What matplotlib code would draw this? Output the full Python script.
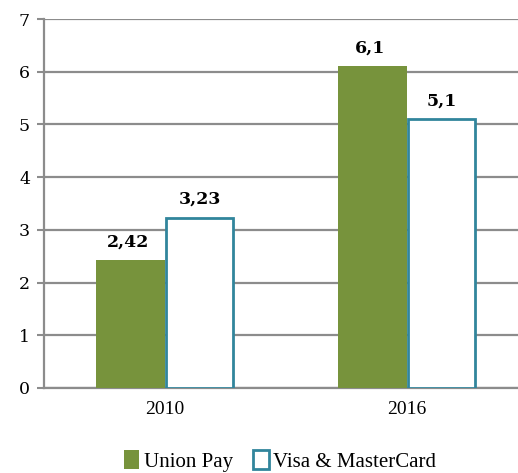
import matplotlib.pyplot as plt
import numpy as np

years = ["2010", "2016"]
union_pay = [2.42, 6.1]
visa_mc = [3.23, 5.1]
union_labels = ["2,42", "6,1"]
visa_labels = ["3,23", "5,1"]
y_ticks = [0, 1, 2, 3, 4, 5, 6, 7]

green = "#77933C"
teal = "#31859C"
grid_gray = "#8C8C8C"

fig = plt.figure(figsize=(5.18, 4.73), dpi=100)
ax = fig.add_axes([44 / 518, 1 - 388 / 473, 484 / 518, 369 / 473])

x = np.arange(len(years))
w = 0.285
b1 = ax.bar(x - w / 2, union_pay, w, color=green, zorder=3, label="Union Pay")
b2 = ax.bar(x + w / 2, visa_mc, w - 0.01, facecolor="white", edgecolor=teal,
            linewidth=2.0, zorder=3, label="Visa & MasterCard")

for rect, txt in zip(b1, union_labels):
    ax.annotate(txt, (rect.get_x() + rect.get_width() / 2 - 0.01, rect.get_height()),
                xytext=(0, 7), textcoords="offset points", ha="center", va="bottom",
                fontsize=12.5, fontweight="bold", family="DejaVu Serif")
for rect, txt in zip(b2, visa_labels):
    ax.annotate(txt, (rect.get_x() + rect.get_width() / 2, rect.get_height()),
                xytext=(0, 7), textcoords="offset points", ha="center", va="bottom",
                fontsize=12.5, fontweight="bold", family="DejaVu Serif")

ax.set_xlim(-0.5, 1.5)
ax.set_ylim(0, 7)
ax.set_yticks(y_ticks)
ax.set_yticklabels([str(v) for v in y_ticks], family="DejaVu Serif", fontsize=12.5)
ax.set_xticks(x)
ax.set_xticklabels(years, family="Liberation Serif", fontsize=14)
ax.tick_params(axis="x", length=0, pad=9)
ax.tick_params(axis="y", length=5, width=1.5, color=grid_gray, pad=5)

ax.yaxis.grid(True, color=grid_gray, linewidth=1.6, zorder=0)
ax.set_axisbelow(True)
for side in ["top", "right"]:
    ax.spines[side].set_visible(False)
ax.spines["left"].set_color(grid_gray)
ax.spines["left"].set_linewidth(1.6)
ax.spines["bottom"].set_color(grid_gray)
ax.spines["bottom"].set_linewidth(1.6)

leg = fig.legend(handles=[b1, b2], loc="center", bbox_to_anchor=(280 / 518, 1 - 461 / 473),
                 ncol=2, frameon=False, fontsize=15,
                 handlelength=0.75, handleheight=1.0, handletextpad=0.2, columnspacing=1.0)
for t in leg.get_texts():
    t.set_family("Liberation Serif")

fig.savefig("out.png", dpi=100)
